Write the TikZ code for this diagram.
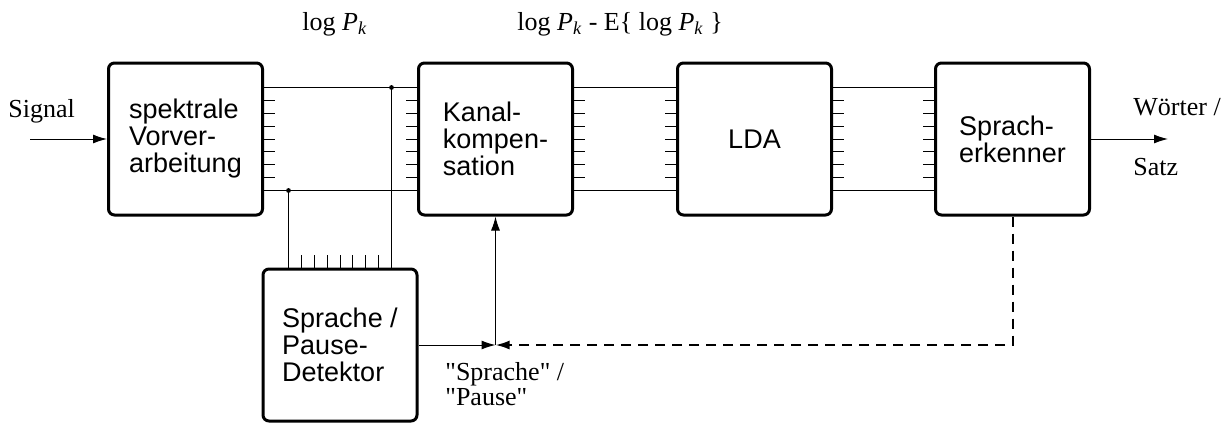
\documentclass[tikz,border=0pt]{standalone}
\usepackage{fontspec}
\setmainfont{Liberation Serif}
\setsansfont{Liberation Sans}
\usetikzlibrary{positioning,arrows.meta,calc}

\tikzset{
  block/.style={draw, line width=1.5pt, rounded corners=3pt, minimum width=77pt, minimum height=76pt,
    align=left, font=\sffamily\fontsize{13.5}{13.5}\selectfont},
  bus/.style={line width=0.5pt},
  arr/.style={line width=0.5pt, -{Latex[length=7pt,width=4.5pt]}},
  lbl/.style={font=\fontsize{13}{12.5}\selectfont, align=left, inner sep=0pt}
}

\newcommand{\busline}[2]{%
  \draw[bus] ($(#1.east)+(0,-51.5)$) -- ($(#2.west)+(0,-51.5)$);
  \draw[bus] ($(#1.east)+(0,51.5)$) -- ($(#2.west)+(0,51.5)$);
  \foreach \k in {1,...,7}{
    \draw[bus] ($(#1.east)+(0,-51.5+\k*12.875)$) -- ++(11,0);
    \draw[bus] ($(#2.west)+(0,-51.5+\k*12.875)$) -- ++(-11,0);
  }}

\begin{document}
\begin{tikzpicture}[x=0.5pt, y=-0.5pt]
  \useasboundingbox (0,0) rectangle (1232,424);

  \node[block] (spek) at (185.5,139) {spektrale\\Vorver-\\arbeitung};
  \node[block, right=76.5pt of spek] (kanal) {Kanal-\\kompen-\\sation};
  \node[block, right=51pt of kanal] (lda) {LDA};
  \node[block, right=50.5pt of lda] (erk) {Sprach-\\erkenner};
  \node[block] (det) at (340,345) {Sprache /\\Pause-\\Detektor};

  \busline{spek}{kanal}
  \busline{kanal}{lda}
  \busline{lda}{erk}

  \coordinate (tapb) at ($(det.north)+(-51.5,0)$);
  \coordinate (tapt) at ($(det.north)+(51.5,0)$);
  \coordinate (dotb) at ($(tapb |- spek.east)+(0,51.5)$);
  \coordinate (dott) at ($(tapt |- spek.east)+(0,-51.5)$);
  \draw[bus] (tapb) -- (dotb) (tapt) -- (dott);
  \fill (dotb) circle (1.2pt) (dott) circle (1.2pt);
  \foreach \k in {1,...,7}
    \draw[bus] ($(tapb)+(\k*12.875,0)$) -- ++(0,-13);

  \coordinate (sigin) at (30,139);
  \coordinate (out) at (1168,139);
  \coordinate (mix) at (kanal.south |- det.east);
  \draw[arr] (sigin) -- (spek.west);
  \draw[arr] (erk.east) -- (out);
  \draw[arr] (det.east) -- (mix);
  \draw[arr] (mix) -- (kanal.south);
  \draw[arr, line width=1pt, dash pattern=on 5pt off 3.5pt] (erk.south) |- (mix);

  \node[lbl, anchor=base west] (signal) at (8,117) {Signal};
  \node[lbl, anchor=base west] (woerter) at (1133,115) {Wörter /};
  \node[lbl, anchor=base west] (satz) at (1133,175) {Satz};
  \node[lbl, anchor=base west] (logp) at (302,30) {log \textit{P}\textsubscript{\textit{k}}};
  \node[lbl, anchor=base west] (logpe) at (517,30)
    {log \textit{P}\textsubscript{\textit{k}} - E\{ log \textit{P}\textsubscript{\textit{k}} \}};
  \node[lbl, anchor=north west] (sp) at (445,362)
    {\textquotedbl Sprache\textquotedbl{} /\\\textquotedbl Pause\textquotedbl};
\end{tikzpicture}
\end{document}
